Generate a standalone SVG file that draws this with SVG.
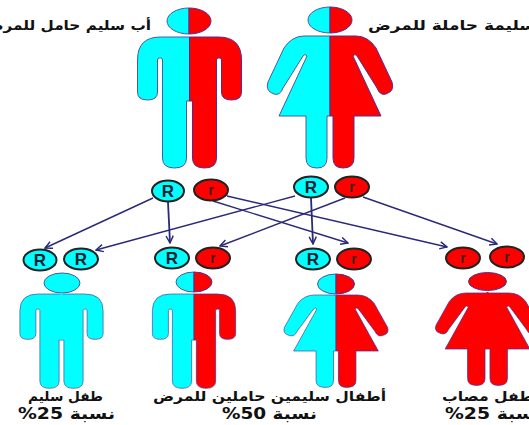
<svg xmlns="http://www.w3.org/2000/svg" width="529" height="425" viewBox="0 0 529 425">
<style>
text{font-family:"DejaVu Sans",sans-serif;font-weight:bold;fill:#111}
.lbl{font-size:13.5px}
.pct{font-size:15.5px;direction:rtl;text-anchor:end}
.c{fill:#00ffff;stroke:#4a5aa0;stroke-width:1}
.d{fill:#ff0000;stroke:#5a2a90;stroke-width:1}
.al{stroke:#222;stroke-width:2}
.at{font-family:"Liberation Sans",sans-serif;font-size:17px;font-weight:bold;text-anchor:middle;fill:#102030}
.lo{font-size:14px;fill:#402010}
.ar{fill:none;stroke:#2a2a78;stroke-width:1.4;marker-end:url(#v)}
</style>
<defs>
<marker id="v" viewBox="0 0 10 10" refX="9" refY="5" markerWidth="9" markerHeight="9" markerUnits="userSpaceOnUse" orient="auto"><path d="M1 1L9 5L1 9" fill="none" stroke="#2a2a78" stroke-width="1.6"/></marker>
<path id="mh" d="M0 0H-29Q-52 0-52 23V55Q-52 63-42 63Q-32 63-32 55V23Q-32 21-30 21H-29Q-27 21-27 23V121Q-27 131-15 131Q-3 131-3 121V64H0Z"/>
<path id="fh" d="M0 0H-26Q-38 0-46 12L-62 46Q-65 55-56 58Q-50 60-47 52L-27 20Q-25 17-23 20L-51 80H-24V122Q-24 132-13 132Q-3 132-3 122V80H0Z"/>
</defs>
<g id="father">
<path class="c" d="M189 8A22 13 0 0 0 189 34Z"/><path class="d" d="M189 8A22 13 0 0 1 189 34Z"/>
<use href="#mh" class="c" transform="translate(189.500 37)"/><use href="#mh" class="d" transform="translate(189.500 37) scale(-1 1)"/>
<text class="lbl" x="151" y="30" text-anchor="end" textLength="168" lengthAdjust="spacingAndGlyphs">أب سليم حامل للمرض</text>
</g>
<g id="mother">
<path class="c" d="M330 7A22 13 0 0 0 330 33Z"/><path class="d" d="M330 7A22 13 0 0 1 330 33Z"/>
<use href="#fh" class="c" transform="translate(330 36)"/><use href="#fh" class="d" transform="translate(330 36) scale(-1 1)"/>
<text class="lbl" x="368" y="30" textLength="168" lengthAdjust="spacingAndGlyphs">سليمة حاملة للمرض</text>
</g>
<g id="connectors">
<path class="ar" d="M153 198L45 248"/>
<path class="ar" d="M168 202L170 243" style="stroke-width:1.8"/>
<path class="ar" d="M227 196L447 247"/>
<path class="ar" d="M213 201L348 243"/>
<path class="ar" d="M295 196L96 250"/>
<path class="ar" d="M311 198L313 244" style="stroke-width:1.8"/>
<path class="ar" d="M345 198L220 246"/>
<path class="ar" d="M363 197L497 244"/>
</g>
<g id="father-R"><ellipse class="c al" cx="168" cy="191" rx="16" ry="10.500"/><text class="at" x="168" y="197">R</text></g>
<g id="father-r"><ellipse class="d al" cx="211" cy="190" rx="17" ry="10.500"/><text class="at lo" x="211" y="195">r</text></g>
<g id="mother-R"><ellipse class="c al" cx="311" cy="187" rx="17" ry="10.500"/><text class="at" x="311" y="193">R</text></g>
<g id="mother-r"><ellipse class="d al" cx="352" cy="187" rx="17" ry="10.500"/><text class="at lo" x="352" y="192">r</text></g>
<g id="child-healthy">
<ellipse class="c al" cx="40" cy="260" rx="16.500" ry="10.500"/><text class="at" x="40" y="266">R</text>
<ellipse class="c al" cx="81" cy="259" rx="17" ry="10.500"/><text class="at" x="81" y="265">R</text>
<ellipse class="c" cx="62" cy="283" rx="18" ry="10"/>
<use href="#mh" class="c" transform="translate(61.500 294) scale(.8 .72)"/><use href="#mh" class="c" transform="translate(61.500 294) scale(-.8 .72)"/>
<path d="M60.500 293H62.500V340H60.500Z" fill="#00ffff"/>
<text class="lbl" x="28" y="401" textLength="75" lengthAdjust="spacingAndGlyphs">طفل سليم</text>
<text class="pct" x="18" y="419" textLength="97" lengthAdjust="spacingAndGlyphs">نسبة 25%</text>
</g>
<g id="child-carrier-male">
<ellipse class="c al" cx="172" cy="258" rx="17" ry="10.500"/><text class="at" x="172" y="264">R</text>
<ellipse class="d al" cx="213" cy="258" rx="17" ry="10.500"/><text class="at lo" x="213" y="263">r</text>
<path class="c" d="M194 272A18 10 0 0 0 194 292Z"/><path class="d" d="M194 272A18 10 0 0 1 194 292Z"/>
<use href="#mh" class="c" transform="translate(194 294) scale(.8 .72)"/><use href="#mh" class="d" transform="translate(194 294) scale(-.8 .72)"/>
</g>
<g id="child-carrier-female">
<ellipse class="c al" cx="313" cy="259" rx="17" ry="10.500"/><text class="at" x="313" y="265">R</text>
<ellipse class="d al" cx="354" cy="259" rx="17" ry="10.500"/><text class="at lo" x="354" y="264">r</text>
<path class="c" d="M336 274A18.500 10 0 0 0 336 294Z"/><path class="d" d="M336 274A18.500 10 0 0 1 336 294Z"/>
<use href="#fh" class="c" transform="translate(336 295) scale(.83 .7)"/><use href="#fh" class="d" transform="translate(336 295) scale(-.83 .7)"/>
</g>
<g id="labels-carriers">
<text class="lbl" x="153" y="401" textLength="233" lengthAdjust="spacingAndGlyphs">أطفال سليمين حاملين للمرض</text>
<text class="pct" x="222" y="419" textLength="95" lengthAdjust="spacingAndGlyphs">نسبة 50%</text>
</g>
<g id="child-affected">
<ellipse class="d al" cx="463" cy="258" rx="17" ry="10.500"/><text class="at lo" x="463" y="263">r</text>
<ellipse class="d al" cx="507" cy="257" rx="17" ry="10.500"/><text class="at lo" x="507" y="262">r</text>
<ellipse class="d" cx="487.500" cy="281.500" rx="19" ry="9"/>
<use href="#fh" class="d" transform="translate(487.500 293) scale(.83 .7)"/><use href="#fh" class="d" transform="translate(487.500 293) scale(-.83 .7)"/>
<path d="M486.500 292H488.500V349H486.500Z" fill="#ff0000"/>
<text class="lbl" x="442" y="401" textLength="92" lengthAdjust="spacingAndGlyphs">طفل مصاب</text>
<text class="pct" x="445" y="419" textLength="97" lengthAdjust="spacingAndGlyphs">نسبة 25%</text>
</g>
</svg>
